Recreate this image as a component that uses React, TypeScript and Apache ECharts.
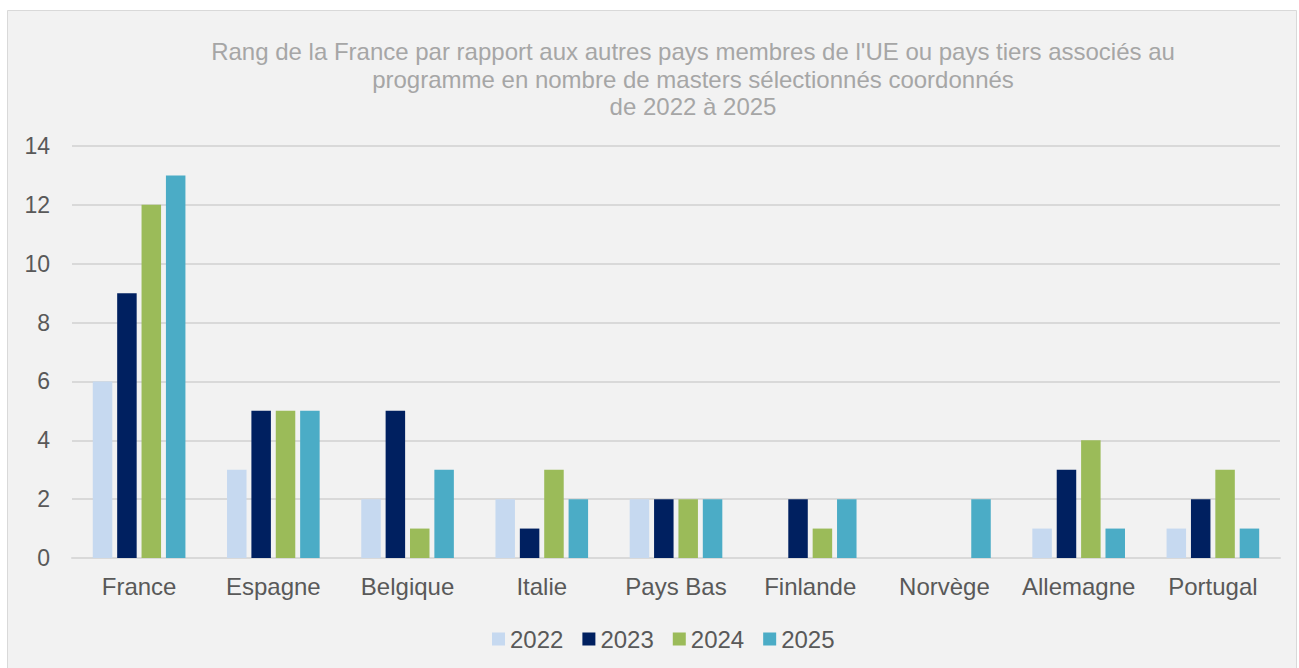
import React, { useEffect, useRef } from "react";
import * as echarts from "echarts";

const categories = ["France", "Espagne", "Belgique", "Italie", "Pays Bas", "Finlande", "Norvège", "Allemagne", "Portugal"];
const years = ["2022", "2023", "2024", "2025"];
const v2022 = [6, 3, 2, 2, 2, 0, 0, 1, 1];
const v2023 = [9, 5, 5, 1, 2, 2, 0, 3, 2];
const v2024 = [12, 5, 1, 3, 2, 1, 0, 4, 3];
const v2025 = [13, 5, 3, 2, 2, 2, 2, 1, 1];
const seriesValues = [v2022, v2023, v2024, v2025];
const colors = ["#c6d9f0", "#002060", "#9bbb59", "#4bacc6"];
const titleText =
  "Rang de la France par rapport aux autres pays membres de l'UE ou pays tiers associés au\nprogramme en nombre de masters sélectionnés coordonnés\nde 2022 à 2025";

export default function App() {
  const ref = useRef<HTMLDivElement>(null);
  useEffect(() => {
    document.body.style.margin = "0";
    const chart = echarts.init(ref.current!, null, { renderer: "svg" });
    const font = "'Liberation Sans', Arial, sans-serif";
    chart.setOption({
      animation: false,
      backgroundColor: "#ffffff",
      graphic: [
        {
          type: "rect",
          z: -10,
          silent: true,
          shape: { x: 7.5, y: 10.5, width: 1289, height: 680 },
          style: { fill: "#f2f2f2", stroke: "#d9d9d9", lineWidth: 1 },
        },
      ],
      title: {
        text: titleText,
        left: 693,
        top: 38,
        textAlign: "center",
        padding: 0,
        textStyle: {
          color: "#a6a6a6",
          fontSize: 24,
          fontWeight: "normal",
          fontFamily: font,
          lineHeight: 27.5,
        },
      },
      legend: {
        data: years,
        top: 622,
        left: 487,
        itemWidth: 13,
        itemHeight: 13,
        itemGap: 19,
        icon: "rect",
        textStyle: { color: "#595959", fontSize: 24, fontFamily: font },
      },
      grid: { left: 72, right: 19, top: 146, bottom: 110, containLabel: false },
      xAxis: {
        type: "category",
        data: categories,
        axisLine: { lineStyle: { color: "#d9d9d9", width: 2 } },
        axisTick: { show: false },
        axisLabel: { color: "#595959", fontSize: 24, fontFamily: font, margin: 16, interval: 0 },
      },
      yAxis: {
        type: "value",
        min: 0,
        max: 14,
        interval: 2,
        axisLine: { show: false },
        axisTick: { show: false },
        splitLine: { lineStyle: { color: "#d9d9d9", width: 2 } },
        axisLabel: { color: "#595959", fontSize: 23, fontFamily: font, margin: 22 },
      },
      series: years.map((y, i) => ({
        name: y,
        type: "bar",
        data: seriesValues[i],
        barWidth: 19.5,
        barGap: "25%",
        itemStyle: { color: colors[i] },
      })),
    });
    return () => chart.dispose();
  }, []);
  return <div ref={ref} style={{ width: 1299, height: 668, position: "absolute", left: 0, top: 0 }} />;
}
